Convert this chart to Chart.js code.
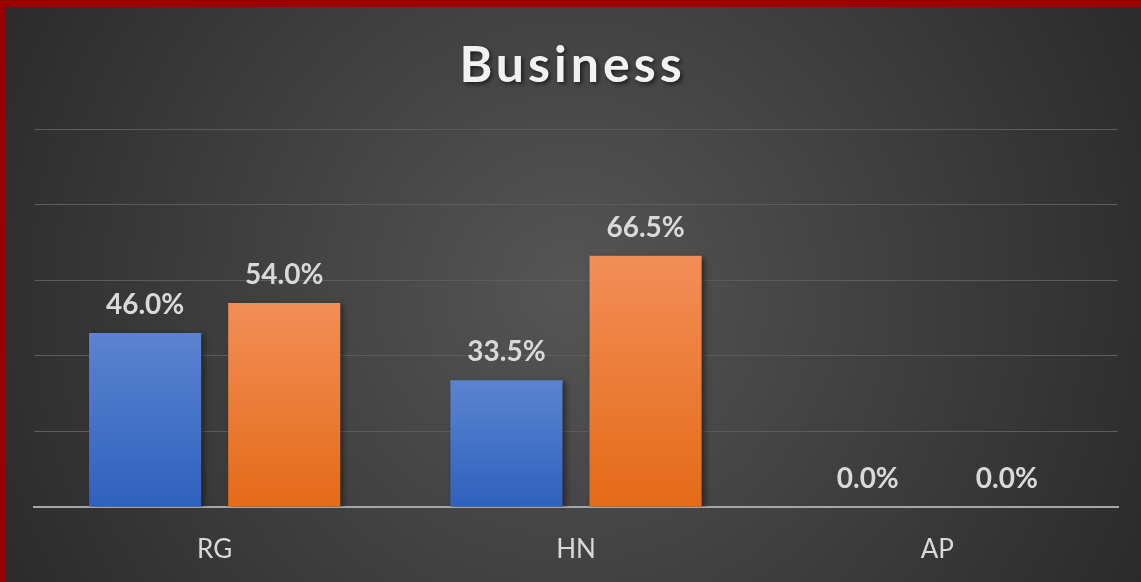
<!DOCTYPE html>
<html>
<head>
<meta charset="utf-8">
<script src="https://cdn.jsdelivr.net/npm/chart.js@4.4.1/dist/chart.umd.min.js"></script>
<style>
  html, body { margin: 0; padding: 0; background: #2a2a2a; }
  #wrap { width: 1141px; height: 582px; position: relative; }
</style>
</head>
<body>
<div id="wrap"><canvas id="myChart"></canvas></div>
<script>
// data
const chartTitle = 'Business';
const categories = ['RG', 'HN', 'AP'];
const seriesA = [46.0, 33.5, 0.0];
const seriesB = [54.0, 66.5, 0.0];
const yMax = 100;
const yStep = 20;

const FONT = 'Lato, "Open Sans", sans-serif';

function barGradient(top, bottom) {
  return function (c) {
    const chart = c.chart;
    if (!chart.chartArea || c.type !== 'data') return bottom;
    const yScale = chart.scales.y;
    const yTop = yScale.getPixelForValue(c.raw);
    const yBase = yScale.getPixelForValue(0);
    if (yBase - yTop < 1) return bottom;
    const g = chart.ctx.createLinearGradient(0, yTop, 0, yBase);
    g.addColorStop(0, top);
    g.addColorStop(1, bottom);
    return g;
  };
}

// background, red frame and title
const backdrop = {
  id: 'backdrop',
  beforeDraw(chart) {
    const ctx = chart.ctx;
    const w = chart.width, h = chart.height;
    ctx.save();
    const g = ctx.createRadialGradient(w / 2, h / 2, 0, w / 2, h / 2, w * 0.62);
    g.addColorStop(0, '#555555');
    g.addColorStop(1, '#262626');
    ctx.fillStyle = g;
    ctx.fillRect(0, 0, w, h);
    ctx.fillStyle = '#9b0000';
    ctx.fillRect(0, 0, w, 7);
    ctx.fillRect(0, 0, 5, h);
    ctx.restore();
  },
  afterDraw(chart) {
    const ctx = chart.ctx;
    ctx.save();
    ctx.font = 'bold 50px ' + FONT;
    ctx.letterSpacing = '4px';
    ctx.textAlign = 'center';
    ctx.textBaseline = 'middle';
    ctx.shadowColor = 'rgba(0,0,0,0.6)';
    ctx.shadowBlur = 4;
    ctx.shadowOffsetX = 2;
    ctx.shadowOffsetY = 2;
    ctx.fillStyle = '#f2f2f2';
    ctx.fillText(chartTitle, chart.width / 2 + 2, 66);
    ctx.restore();
  }
};

// bar shadow + value labels
const barLabels = {
  id: 'barLabels',
  beforeDatasetsDraw(chart) {
    const ctx = chart.ctx;
    ctx.save();
    ctx.shadowColor = 'rgba(0,0,0,0.45)';
    ctx.shadowBlur = 6;
    ctx.shadowOffsetX = 3;
    ctx.shadowOffsetY = 2;
  },
  afterDatasetsDraw(chart) {
    const ctx = chart.ctx;
    ctx.restore();
    ctx.save();
    ctx.font = 'bold 28px ' + FONT;
    ctx.fillStyle = '#d9d9d9';
    ctx.textAlign = 'center';
    ctx.textBaseline = 'bottom';
    chart.data.datasets.forEach((ds, i) => {
      chart.getDatasetMeta(i).data.forEach((bar, j) => {
        ctx.fillText(ds.data[j].toFixed(1) + '%', bar.x, bar.y - 14);
      });
    });
    ctx.restore();
  }
};

const ctx = document.getElementById('myChart').getContext('2d');
const myChart = new Chart(ctx, {
  type: 'bar',
  data: {
    labels: categories,
    datasets: [{
      label: 'Series 1',
      data: seriesA,
      backgroundColor: barGradient('#5b84d0', '#2e61be'),
      borderWidth: 0
    }, {
      label: 'Series 2',
      data: seriesB,
      backgroundColor: barGradient('#f28e57', '#e46b18'),
      borderWidth: 0
    }]
  },
  options: {
    responsive: true,
    maintainAspectRatio: false,
    animation: false,
    events: [],
    categoryPercentage: 0.77,
    barPercentage: 0.806,
    layout: {
      padding: { left: 34, right: 23, top: 129, bottom: 0 }
    },
    plugins: {
      legend: { display: false },
      title: { display: false },
      tooltip: { enabled: false }
    },
    scales: {
      x: {
        afterFit(scale) { scale.height = 75; },
        grid: { display: false, drawTicks: false, tickLength: 0 },
        border: { display: true, color: '#a6a6a6', width: 2 },
        ticks: {
          color: '#d9d9d9',
          font: { family: FONT, size: 26, lineHeight: 1.2 },
          padding: 27
        }
      },
      y: {
        min: 0,
        max: yMax,
        ticks: { display: false, stepSize: yStep },
        grid: { color: '#5c5c5c', lineWidth: 1, drawTicks: false },
        border: { display: false }
      }
    }
  },
  plugins: [backdrop, barLabels]
});
</script>
</body>
</html>
